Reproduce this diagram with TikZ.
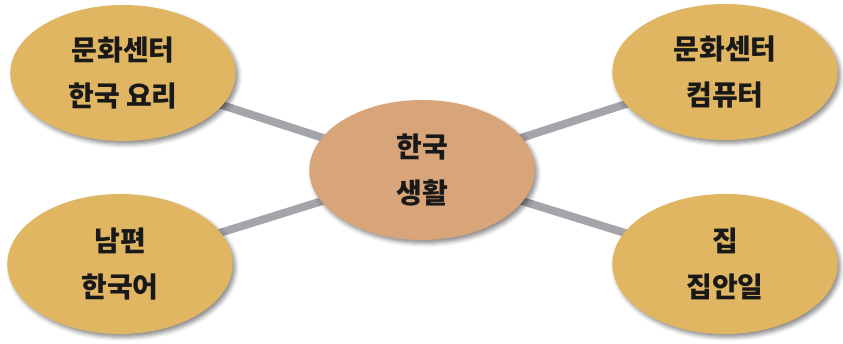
\documentclass[tikz,border=0pt]{standalone}
\usepackage{fontspec}
\newfontfamily\kr{Noto Sans CJK KR}
\usetikzlibrary{shapes}
\usetikzlibrary{shadows.blur}
\usetikzlibrary{backgrounds}
\definecolor{bubblegold}{RGB}{224,182,98}
\definecolor{bubblecore}{RGB}{216,164,122}
\definecolor{spoke}{RGB}{164,165,170}
\tikzset{
  bubble/.style={ellipse, fill=bubblegold, minimum width=169pt, minimum height=102pt,
    inner sep=0.75pt, align=center, text=black!90,
    font=\kr\bfseries\fontsize{21}{35}\selectfont,
    blur shadow={shadow xshift=2pt, shadow yshift=-2.5pt, shadow blur radius=3pt, shadow opacity=45}},
  spokeline/.style={draw=spoke, line width=6pt}
}
\begin{document}
\begin{tikzpicture}[x=0.75pt,y=0.75pt,yscale=-1,xscale=1]
\useasboundingbox (0,0) rectangle (843,343);

%Shape: Ellipse [id:core]
\node [bubble, fill=bubblecore, minimum width=169pt, minimum height=105pt] (core) at (422,170) {한국\\생활};
%Shape: Ellipse [id:culture]
\node [bubble] (culture) at (123,73) {문화센터\\한국 요리};
%Shape: Ellipse [id:husband]
\node [bubble, minimum height=105pt] (husband) at (120,264) {남편\\한국어};
%Shape: Ellipse [id:computer]
\node [bubble] (computer) at (725,72) {문화센터\\컴퓨터};
%Shape: Ellipse [id:home]
\node [bubble, minimum height=105pt] (home) at (725,264) {집\\집안일};

%Straight Lines
\begin{pgfonlayer}{background}
\draw [spokeline] (culture.center) -- (core.center);
\draw [spokeline] (computer.center) -- (core.center);
\draw [spokeline] (husband.center) -- (core.center);
\draw [spokeline] (home.center) -- (core.center);
\end{pgfonlayer}

\end{tikzpicture}
\end{document}
